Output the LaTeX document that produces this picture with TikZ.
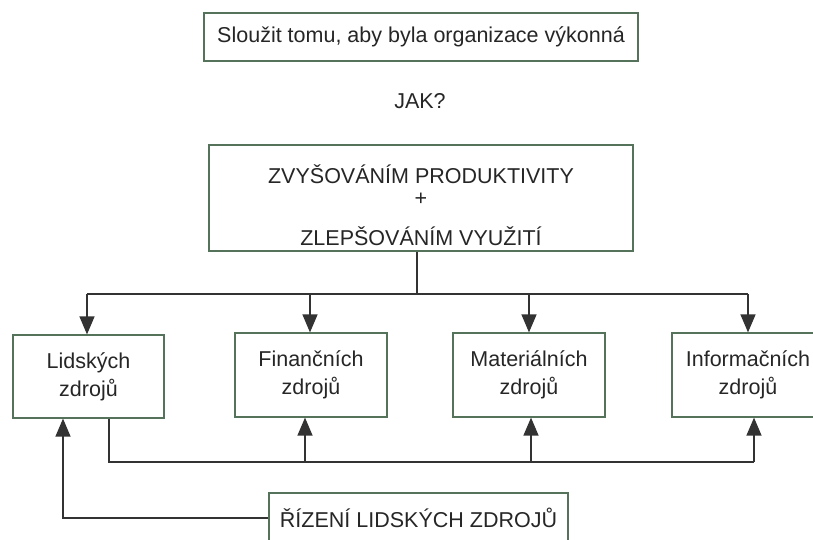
\documentclass[tikz,border=0pt]{standalone}
\usepackage{fontspec}
\setmainfont{Liberation Sans}
\usetikzlibrary{arrows.meta}
\definecolor{boxc}{HTML}{55735A}
\definecolor{linec}{HTML}{333333}
\definecolor{txtc}{HTML}{262626}
\begin{document}
\begin{tikzpicture}[x=1pt,y=-1pt,
 box/.style={draw=boxc,line width=1.2pt,fill=white,inner sep=0pt,align=center,text=txtc,font=\fontsize{21.5}{28}\selectfont},
 lbl/.style={text=txtc,font=\fontsize{21.5}{26}\selectfont,inner sep=0pt,anchor=base},
 conn/.style={draw=linec,line width=1.3pt},
 arr/.style={conn,-{Triangle[length=18pt,width=15pt]}}]
\clip (0,0) rectangle (813,539);
\node[box,minimum width=434pt,minimum height=48pt] (goal) at (421,37) {Sloužit tomu, aby byla organizace výkonná};
\node[lbl] (jak) at (420,108) {JAK?};
\node[box,minimum width=424pt,minimum height=106pt] (main) at (421,198) {};
\node[lbl] (m1) at (421,183) {ZVYŠOVÁNÍM PRODUKTIVITY};
\node[lbl] (m2) at (421,205) {+};
\node[lbl] (m3) at (421,245) {ZLEPŠOVÁNÍM VYUŽITÍ};
\node[box,minimum width=151pt,minimum height=83pt] (lid) at (88.5,376.5) {Lidských\\zdrojů};
\node[box,minimum width=152pt,minimum height=84pt] (fin) at (311,375) {Finančních\\zdrojů};
\node[box,minimum width=152pt,minimum height=84pt] (mat) at (529,375) {Materiálních\\zdrojů};
\node[box,minimum width=152pt,minimum height=84pt] (inf) at (748,375) {Informačních\\zdrojů};
\node[box,minimum width=299pt,minimum height=50pt] (riz) at (418.5,518) {ŘÍZENÍ LIDSKÝCH ZDROJŮ};
% top distribution
\coordinate (hub) at (417,294);
\coordinate (hl) at (87,294);
\coordinate (hf) at (310,294);
\coordinate (hm) at (529,294);
\coordinate (hr) at (748,294);
\draw[conn] (main.south -| hub) -- (hub);
\draw[conn] (hl) -- (hr);
\draw[arr] (hl) -- (lid.north -| hl);
\draw[arr] (hf) -- (fin.north -| hf);
\draw[arr] (hm) -- (mat.north -| hm);
\draw[arr] (hr) -- (inf.north -| hr);
% bottom distribution
\coordinate (bl) at (109,462);
\coordinate (b1) at (305,462);
\coordinate (b2) at (531,462);
\coordinate (br) at (754,462);
\draw[conn] (lid.south -| bl) -- (bl) -- (br);
\draw[arr] (b1) -- (fin.south -| b1);
\draw[arr] (b2) -- (mat.south -| b2);
\draw[arr] (br) -- (inf.south -| br);
\coordinate (rl) at (63,518);
\draw[arr] (riz.west) -- (rl) -- (lid.south -| rl);
\end{tikzpicture}
\end{document}
